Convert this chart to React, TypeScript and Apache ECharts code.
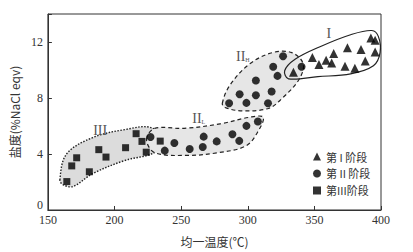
import React, { useEffect, useRef } from "react";
import * as echarts from "echarts";

// Stage I (triangles): [homogenization temperature, salinity]
const stage1: number[][] = [
  [334.3, 9.84], [348.5, 10.89], [353.4, 10.4], [358.8, 10.7], [363, 10.5],
  [364.5, 11.17], [374.8, 11.59], [373, 10.26], [380.4, 10.12], [385, 11.47],
  [388.2, 10.65], [392.4, 12.28], [395.6, 12.12], [395.6, 11.28],
];
// Stage II (circles)
const stage2: number[][] = [
  [326.5, 10.98], [340.4, 10.23], [319.1, 10.23], [322.3, 9.58], [306.1, 9.25],
  [317.9, 8.46], [293.9, 8.27], [306.1, 8.2], [286, 7.62], [299, 7.65], [315.2, 7.62],
  [307.6, 6.32], [299, 6.01], [288.5, 5.41], [293.6, 4.94], [266.9, 5.24],
  [276.7, 4.9], [266.2, 4.5], [256.4, 4.36], [244.9, 4.78], [237.7, 4.24], [227, 5.22],
];
// Stage III (squares)
const stage3: number[][] = [
  [164.2, 2.03], [167.9, 3.15], [171.6, 3.73], [181.1, 2.73], [188.2, 4.31],
  [193.6, 3.78], [208.3, 4.45], [216.2, 5.45], [220.6, 4.9], [223.8, 4.13], [234.3, 4.92],
];

// Enclosure outlines (data coordinates)
const outlineI: number[][] = [
  [327.7, 9.95], [335.5, 10.77], [355.1, 11.7], [377.2, 12.52], [393.1, 12.82],
  [398, 12.4], [399.3, 11.24], [394.3, 10.3], [377.2, 9.72], [352.7, 9.53], [330.6, 9.37],
];
const outlineIIH: number[][] = [
  [280.9, 7.62], [286.5, 8.9], [301.2, 10.42], [318.4, 11.24], [333.1, 11.24],
  [341.7, 10.42], [338, 9.25], [325.7, 7.97], [316, 7.27], [296.3, 7.08], [282.9, 7.32],
];
const outlineIIL: number[][] = [
  [224, 5.05], [230.1, 5.83], [252.2, 5.83], [279.2, 6.15], [301.2, 6.62],
  [311.5, 6.64], [308.6, 5.76], [298.8, 4.59], [276.7, 4.08], [254.7, 3.9], [230.1, 4.1],
];
const outlineIII: number[][] = [
  [159, 2.15], [164, 4.0], [183.6, 5.17], [208.1, 5.75], [227.7, 5.87],
  [237.5, 4.7], [227.7, 4.0], [208.1, 3.55], [183.6, 2.6], [168.9, 1.68], [161.5, 1.8],
];

// Annotation labels: [x, y]
const labelI = [360.8, 12.64];
const labelIIH = [296.3, 10.98];
const labelIIL = [263.2, 6.57];
const labelIII = [189.2, 5.66];

const seriesNames = ["第 I 阶段", "第 II 阶段", "第III阶段"];
const xTicks = { min: 150, max: 400, interval: 50 };
const yTicks = { min: 0, max: 14, interval: 4 };

const SERIF = "'Liberation Serif', 'DejaVu Serif', 'Noto Sans CJK SC', serif";
const CJK = "'Noto Sans CJK SC', 'Liberation Serif', serif";

function outlineSeries(
  pts: number[][],
  fill: string,
  lineDash: number[] | null,
  lineWidth: number,
  label: number[] | null,
  labelText: string,
  labelRich: boolean
) {
  return {
    type: "custom",
    coordinateSystem: "cartesian2d",
    silent: true,
    z: 1,
    data: [[pts[0][0], pts[0][1]]],
    renderItem: (_params: any, api: any) => {
      const points = pts.map((p) => api.coord(p));
      const children: any[] = [
        {
          type: "polygon",
          shape: { points, smooth: 0.35 },
          style: {
            fill,
            stroke: "#222",
            lineWidth,
            lineDash: lineDash || undefined,
          },
        },
      ];
      if (label) {
        const c = api.coord(label);
        children.push({
          type: "text",
          x: c[0],
          y: c[1],
          style: labelRich
            ? {
                text: "{a|" + labelText.split("_")[0] + "}{b|" + labelText.split("_")[1] + "}",
                rich: {
                  a: { fontFamily: SERIF, fontSize: 14, fill: "#555" },
                  b: { fontFamily: SERIF, fontSize: 6, fill: "#555", padding: [8, 0, 0, 0] },
                },
                align: "center",
                verticalAlign: "middle",
              }
            : {
                text: labelText,
                fontFamily: SERIF,
                fontSize: 14,
                fill: "#555",
                align: "center",
                verticalAlign: "middle",
              },
        });
      }
      return { type: "group", children };
    },
  };
}

export default function App() {
  const ref = useRef<HTMLDivElement>(null);
  useEffect(() => {
    if (!ref.current) return;
    const chart = echarts.init(ref.current, null, { renderer: "svg" });
    chart.setOption({
      animation: false,
      backgroundColor: "#fff",
      grid: {
        left: 41,
        right: 32,
        top: 14,
        bottom: 38,
        show: true,
        borderColor: "#333",
        borderWidth: 1,
        backgroundColor: "transparent",
      },
      legend: {
        orient: "vertical",
        left: 308,
        top: 146,
        itemWidth: 8,
        itemHeight: 8,
        itemGap: 6,
        data: seriesNames,
        textStyle: { fontFamily: CJK, fontSize: 11, color: "#333" },
      },
      xAxis: {
        type: "value",
        min: xTicks.min,
        max: xTicks.max,
        interval: xTicks.interval,
        name: "均一温度(℃)",
        nameLocation: "middle",
        nameGap: 25,
        nameTextStyle: { fontFamily: CJK, fontSize: 12, color: "#333" },
        axisLine: { show: true, lineStyle: { color: "#333", width: 1 } },
        axisTick: { show: true, inside: true, length: 4, lineStyle: { color: "#333" } },
        axisLabel: { fontFamily: SERIF, fontSize: 12, color: "#333", margin: 4 },
        splitLine: { show: false },
      },
      yAxis: {
        type: "value",
        min: yTicks.min,
        max: yTicks.max,
        interval: yTicks.interval,
        name: "盐度(%NaCl eqv)",
        nameLocation: "middle",
        nameGap: 22,
        nameTextStyle: { fontFamily: CJK, fontSize: 12, color: "#333" },
        axisLine: { show: true, lineStyle: { color: "#333", width: 1 } },
        axisTick: { show: true, inside: true, length: 4, lineStyle: { color: "#333" } },
        axisLabel: {
          fontFamily: SERIF,
          fontSize: 12,
          color: "#333",
          margin: 5,
          formatter: (v: number) => (v === 14 ? "" : v === 0 ? "{z|0}" : String(v)),
          rich: { z: { fontFamily: SERIF, fontSize: 12, color: "#333", padding: [0, 0, 9, 0] } },
        },
        splitLine: { show: false },
      },
      series: [
        outlineSeries(outlineIII, "#dcdcdc", [1.5, 1.5], 1.4, labelIII, "III", false),
        outlineSeries(outlineIIL, "#e6e6e6", [4, 3], 1.2, labelIIL, "II_L", true),
        outlineSeries(outlineIIH, "#e6e6e6", [4, 3], 1.2, labelIIH, "II_H", true),
        outlineSeries(outlineI, "transparent", null, 1.2, labelI, "I", false),
        {
          name: seriesNames[0],
          type: "scatter",
          symbol: "triangle",
          symbolSize: 9,
          z: 3,
          itemStyle: { color: "#000" },
          data: stage1,
        },
        {
          name: seriesNames[1],
          type: "scatter",
          symbol: "circle",
          symbolSize: 8,
          z: 3,
          itemStyle: { color: "#000" },
          data: stage2,
        },
        {
          name: seriesNames[2],
          type: "scatter",
          symbol: "rect",
          symbolSize: 7,
          z: 3,
          itemStyle: { color: "#000" },
          data: stage3,
        },
      ],
    });
    return () => chart.dispose();
  }, []);
  return (
    <div
      ref={ref}
      style={{ position: "fixed", left: 0, top: 0, width: 413, height: 252 }}
    />
  );
}
